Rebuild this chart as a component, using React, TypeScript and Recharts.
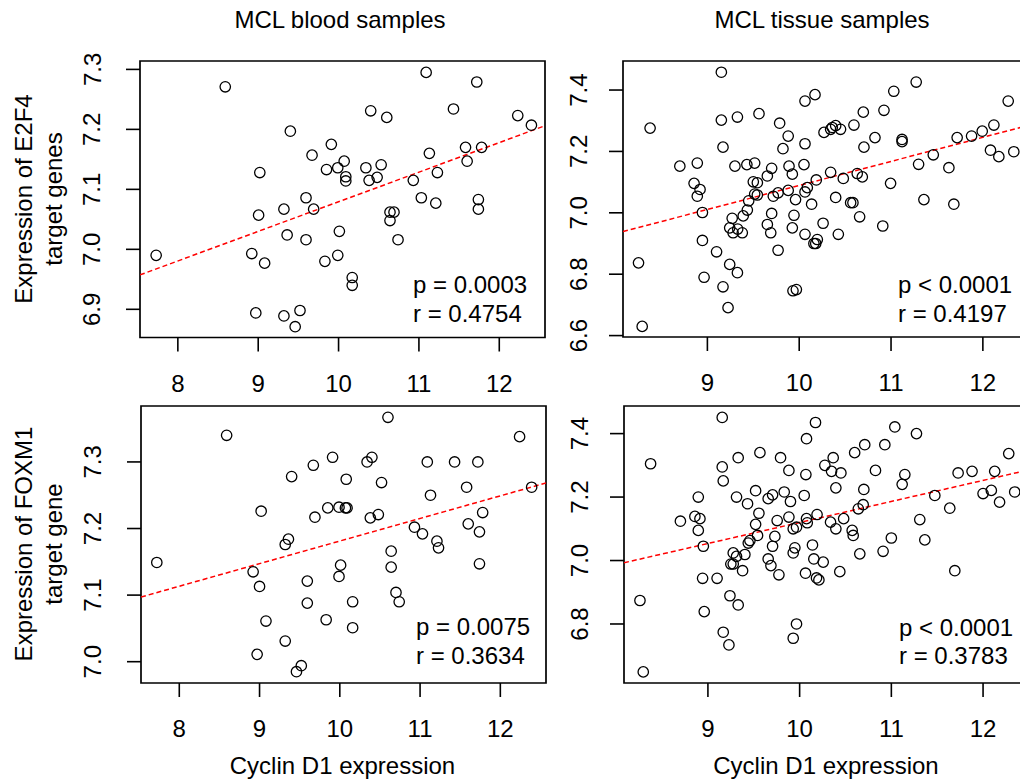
import React from "react"
import {
  ScatterChart,
  Scatter,
  XAxis,
  YAxis,
  ReferenceArea,
  ReferenceLine,
} from "recharts"

const FONT = "'Liberation Sans', Arial, Helvetica, sans-serif"

// blood samples, E2F4 targets
const bloodE2F4X = [7.73, 8.59, 9.40, 9.02, 9.005, 8.92, 9.08, 8.97, 9.32, 9.52, 9.46, 9.32, 9.36, 9.595, 9.69, 9.595, 9.67, 9.91, 9.85, 9.99, 10.07, 10.09, 10.09, 10.01, 9.99, 9.83, 10.17, 10.17, 10.40, 10.60, 10.34, 10.53, 10.48, 10.38, 10.64, 10.69, 10.64, 10.74, 11.09, 11.13, 10.93, 11.23, 11.03, 11.21, 11.43, 11.72, 11.58, 11.78, 11.60, 11.74, 11.74, 12.23, 12.40]
const bloodE2F4Y = [6.990, 7.271, 7.197, 7.128, 7.057, 6.993, 6.977, 6.894, 6.889, 6.898, 6.871, 7.067, 7.024, 7.086, 7.067, 7.016, 7.157, 7.175, 7.133, 7.136, 7.147, 7.121, 7.114, 7.030, 6.990, 6.980, 6.953, 6.940, 7.231, 7.220, 7.136, 7.141, 7.120, 7.115, 7.062, 7.062, 7.048, 7.016, 7.295, 7.160, 7.115, 7.128, 7.086, 7.077, 7.234, 7.279, 7.170, 7.170, 7.147, 7.083, 7.067, 7.223, 7.207]

// blood samples, FOXM1 target
const bloodFOXM1X = [7.72, 8.59, 9.40, 9.02, 8.92, 9.00, 9.08, 8.97, 9.32, 9.52, 9.46, 9.32, 9.36, 9.595, 9.69, 9.595, 9.67, 9.91, 9.85, 9.99, 10.08, 10.07, 10.09, 10.01, 9.99, 9.83, 10.16, 10.16, 10.34, 10.40, 10.52, 10.48, 10.38, 10.60, 10.64, 10.64, 10.70, 10.74, 11.09, 11.13, 10.93, 11.03, 11.21, 11.23, 11.43, 11.72, 11.58, 11.78, 11.60, 11.74, 11.74, 12.24, 12.39]
const bloodFOXM1Y = [7.149, 7.340, 7.278, 7.226, 7.135, 7.113, 7.061, 7.011, 7.031, 6.994, 6.985, 7.176, 7.184, 7.121, 7.217, 7.088, 7.295, 7.307, 7.231, 7.232, 7.274, 7.231, 7.231, 7.145, 7.128, 7.063, 7.090, 7.051, 7.300, 7.307, 7.269, 7.221, 7.216, 7.367, 7.166, 7.142, 7.104, 7.090, 7.300, 7.250, 7.202, 7.192, 7.181, 7.171, 7.300, 7.300, 7.262, 7.224, 7.207, 7.195, 7.147, 7.338, 7.262]

// tissue samples, E2F4 targets
const tissueE2F4X = [8.25, 8.29, 8.376, 8.70, 8.89, 8.855, 8.92, 8.89, 8.946, 8.946, 8.964, 9.10, 9.152, 9.152, 9.17, 9.17, 9.225, 9.243, 9.327, 9.327, 9.30, 9.27, 9.243, 9.28, 9.33, 9.38, 9.39, 9.435, 9.45, 9.43, 9.515, 9.50, 9.544, 9.515, 9.544, 9.562, 9.653, 9.70, 9.653, 9.69, 9.70, 9.718, 9.77, 9.77, 9.787, 9.823, 9.88, 9.889, 9.925, 9.88, 9.96, 9.943, 9.925, 9.932, 9.969, 10.063, 10.172, 10.063, 10.052, 10.063, 10.088, 10.135, 10.063, 10.186, 10.16, 10.197, 10.18, 10.26, 10.27, 10.342, 10.36, 10.397, 10.45, 10.342, 10.397, 10.426, 10.48, 10.56, 10.585, 10.596, 10.632, 10.687, 10.658, 10.698, 10.705, 10.825, 10.923, 10.995, 10.91, 11.03, 11.12, 11.12, 11.274, 11.30, 11.358, 11.46, 11.63, 11.684, 11.72, 11.877, 11.993, 12.12, 12.083, 12.174, 12.276, 12.337]
const tissueE2F4Y = [6.837, 6.630, 7.276, 7.152, 7.162, 7.096, 7.076, 7.054, 7.001, 6.910, 6.790, 6.873, 7.458, 7.302, 7.214, 6.759, 6.691, 6.832, 6.805, 7.312, 7.152, 6.982, 6.951, 6.935, 6.947, 6.935, 6.990, 7.009, 7.039, 7.157, 7.162, 7.101, 7.098, 7.061, 7.058, 7.323, 7.120, 7.145, 6.962, 6.935, 6.998, 7.054, 7.065, 6.878, 7.292, 7.209, 7.250, 7.152, 7.126, 7.073, 7.043, 6.992, 6.951, 6.746, 6.750, 7.364, 7.385, 7.225, 7.157, 7.068, 7.082, 7.028, 6.930, 7.107, 6.900, 6.913, 6.900, 6.966, 7.262, 7.272, 7.278, 7.284, 7.272, 7.132, 7.050, 6.930, 7.112, 7.033, 7.033, 7.286, 7.128, 7.117, 6.987, 7.328, 7.214, 7.245, 7.334, 7.096, 6.957, 7.396, 7.239, 7.232, 7.426, 7.158, 7.043, 7.189, 7.147, 7.028, 7.245, 7.250, 7.266, 7.286, 7.204, 7.183, 7.364, 7.199]

// tissue samples, FOXM1 target
const tissueFOXM1X = [8.259, 8.295, 8.375, 8.70, 8.858, 8.913, 8.895, 8.895, 8.95, 8.942, 8.96, 9.10, 9.156, 9.156, 9.167, 9.167, 9.229, 9.24, 9.33, 9.33, 9.312, 9.276, 9.25, 9.276, 9.312, 9.378, 9.403, 9.432, 9.44, 9.458, 9.52, 9.556, 9.52, 9.541, 9.567, 9.657, 9.705, 9.657, 9.687, 9.705, 9.73, 9.755, 9.774, 9.792, 9.832, 9.883, 9.883, 9.90, 9.93, 9.966, 9.948, 9.93, 9.93, 9.966, 10.075, 10.173, 10.068, 10.05, 10.075, 10.083, 10.14, 10.155, 10.064, 10.19, 10.184, 10.21, 10.257, 10.275, 10.366, 10.348, 10.45, 10.395, 10.337, 10.395, 10.48, 10.438, 10.573, 10.584, 10.60, 10.64, 10.693, 10.656, 10.70, 10.71, 10.827, 10.929, 10.91, 11.00, 11.038, 11.147, 11.118, 11.274, 11.31, 11.365, 11.474, 11.637, 11.692, 11.728, 11.88, 12.00, 12.09, 12.127, 12.18, 12.28, 12.345]
const tissueFOXM1Y = [6.874, 6.649, 7.305, 7.124, 7.139, 7.132, 7.200, 7.095, 7.045, 6.944, 6.839, 6.944, 7.451, 7.295, 7.251, 6.774, 6.734, 6.889, 6.860, 7.324, 7.200, 7.024, 6.989, 6.989, 7.013, 6.968, 7.019, 7.179, 7.055, 7.063, 7.220, 7.149, 7.114, 7.079, 7.340, 7.195, 7.207, 7.005, 6.984, 7.045, 7.076, 7.126, 6.955, 7.324, 7.216, 7.284, 7.137, 7.186, 7.100, 7.105, 7.040, 7.024, 6.755, 6.800, 7.384, 7.435, 7.271, 7.205, 7.132, 7.119, 7.049, 7.005, 6.960, 7.145, 6.945, 6.939, 6.995, 7.300, 7.324, 7.281, 7.276, 7.229, 7.121, 7.100, 7.132, 6.965, 7.095, 7.079, 7.340, 7.163, 7.176, 7.021, 7.224, 7.365, 7.284, 7.365, 7.029, 7.071, 7.421, 7.271, 7.240, 7.400, 7.129, 7.065, 7.205, 7.165, 6.968, 7.276, 7.281, 7.211, 7.221, 7.281, 7.184, 7.337, 7.216]

// fitted lines: [intercept, slope]
const bloodE2F4Fit = [6.5858, 0.04935]
const bloodFOXM1Fit = [6.8418, 0.03394]
const tissueE2F4Fit = [6.306, 0.07832]
const tissueFOXM1Fit = [6.4571, 0.06628]

const bloodXTicks = [8, 9, 10, 11, 12]
const tissueXTicks = [9, 10, 11, 12]
const bloodE2F4YTicks = [6.9, 7.0, 7.1, 7.2, 7.3]
const bloodFOXM1YTicks = [7.0, 7.1, 7.2, 7.3]
const tissueE2F4YTicks = [6.6, 6.8, 7.0, 7.2, 7.4]
const tissueFOXM1YTicks = [6.8, 7.0, 7.2, 7.4]

const Y_AXIS_W = 130
const M_TOP = 10
const M_RIGHT = 10
const X_AXIS_H = 70
const TICK = 14

function Circle(props: any) {
  const { cx, cy } = props
  return <circle cx={cx} cy={cy} r={5.2} fill="none" stroke="#000" strokeWidth={1.3} />
}

function XTick(props: any) {
  const { x, y, payload } = props
  return (
    <text x={x} y={y + 40} textAnchor="middle" fontSize={24} fontFamily={FONT} fill="#000">
      {payload.value}
    </text>
  )
}

function YTick(props: any) {
  const { x, y, payload, gap } = props
  const bx = x + TICK - gap
  return (
    <text
      x={bx}
      y={y}
      transform={`rotate(-90 ${bx} ${y})`}
      textAnchor="middle"
      fontSize={24}
      fontFamily={FONT}
      fill="#000"
    >
      {Number(payload.value).toFixed(1)}
    </text>
  )
}

interface PanelProps {
  xs: number[]
  ys: number[]
  fit: number[]
  left: number
  right: number
  top: number
  bottom: number
  xDomain: [number, number]
  yDomain: [number, number]
  xTicks: number[]
  yTicks: number[]
  yLabelGap: number
}

function Panel(p: PanelProps) {
  const data = p.xs.map((x, i) => ({ x, y: p.ys[i] }))
  const w = Y_AXIS_W + (p.right - p.left) + M_RIGHT
  const h = M_TOP + (p.bottom - p.top) + X_AXIS_H
  const [a, b] = p.fit
  const seg = [
    { x: p.xDomain[0], y: a + b * p.xDomain[0] },
    { x: p.xDomain[1], y: a + b * p.xDomain[1] },
  ]

  return (
    <div style={{ position: "absolute", left: p.left - Y_AXIS_W, top: p.top - M_TOP }}>
      <ScatterChart width={w} height={h} margin={{ top: M_TOP, right: M_RIGHT, bottom: 0, left: 0 }}>
        <XAxis
          type="number"
          dataKey="x"
          domain={p.xDomain}
          ticks={p.xTicks}
          allowDataOverflow
          interval={0}
          axisLine={false}
          tickSize={TICK}
          tickMargin={0}
          tickLine={{ stroke: "#000", strokeWidth: 1.6 }}
          height={X_AXIS_H}
          tick={<XTick />}
        />
        <YAxis
          type="number"
          dataKey="y"
          domain={p.yDomain}
          ticks={p.yTicks}
          allowDataOverflow
          interval={0}
          axisLine={false}
          tickSize={TICK}
          tickMargin={0}
          tickLine={{ stroke: "#000", strokeWidth: 1.6 }}
          width={Y_AXIS_W}
          tick={<YTick gap={p.yLabelGap} />}
        />
        <ReferenceArea
          x1={p.xDomain[0]}
          x2={p.xDomain[1]}
          y1={p.yDomain[0]}
          y2={p.yDomain[1]}
          fill="none"
          stroke="#000"
          strokeWidth={1.7}
          ifOverflow="visible"
        />
        <ReferenceLine segment={seg} stroke="#ff0000" strokeWidth={1.5} strokeDasharray="5 3" ifOverflow="hidden" />
        <Scatter data={data} shape={Circle} isAnimationActive={false} />
      </ScatterChart>
    </div>
  )
}

const txt = { fontSize: 24, fontFamily: FONT, fill: "#000" }

export default function App() {
  return (
    <div
      style={{
        position: "fixed",
        left: 0,
        top: 0,
        width: 1020,
        height: 783,
        overflow: "hidden",
        background: "#fff",
      }}
    >
      <Panel
        xs={bloodE2F4X}
        ys={bloodE2F4Y}
        fit={bloodE2F4Fit}
        left={139.5}
        right={544.5}
        top={61}
        bottom={337.5}
        xDomain={[7.529, 12.569]}
        yDomain={[6.853, 7.314]}
        xTicks={bloodXTicks}
        yTicks={bloodE2F4YTicks}
        yLabelGap={39.5}
      />
      <Panel
        xs={bloodFOXM1X}
        ys={bloodFOXM1Y}
        fit={bloodFOXM1Fit}
        left={140.5}
        right={545.5}
        top={405.5}
        bottom={682.5}
        xDomain={[7.523, 12.569]}
        yDomain={[6.968, 7.384]}
        xTicks={bloodXTicks}
        yTicks={bloodFOXM1YTicks}
        yLabelGap={40}
      />
      <Panel
        xs={tissueE2F4X}
        ys={tissueE2F4Y}
        fit={tissueE2F4Fit}
        left={622.5}
        right={1028}
        top={61}
        bottom={337}
        xDomain={[8.081, 12.497]}
        yDomain={[6.5954, 7.4946]}
        xTicks={tissueXTicks}
        yTicks={tissueE2F4YTicks}
        yLabelGap={36}
      />
      <Panel
        xs={tissueFOXM1X}
        ys={tissueFOXM1Y}
        fit={tissueFOXM1Fit}
        left={624}
        right={1028}
        top={405.5}
        bottom={682.5}
        xDomain={[8.085, 12.49]}
        yDomain={[6.614, 7.487]}
        xTicks={tissueXTicks}
        yTicks={tissueFOXM1YTicks}
        yLabelGap={36}
      />
      <svg
        width={1020}
        height={783}
        style={{ position: "absolute", left: 0, top: 0, pointerEvents: "none" }}
      >
        <text x={340} y={27.5} textAnchor="middle" {...txt}>MCL blood samples</text>
        <text x={822} y={27.5} textAnchor="middle" {...txt}>MCL tissue samples</text>
        <text x={342.5} y={774} textAnchor="middle" {...txt}>Cyclin D1 expression</text>
        <text x={826} y={774} textAnchor="middle" {...txt}>Cyclin D1 expression</text>

        <text x={31.5} y={199} textAnchor="middle" transform="rotate(-90 31.5 199)" {...txt}>Expression of E2F4</text>
        <text x={61.5} y={199} textAnchor="middle" transform="rotate(-90 61.5 199)" {...txt}>target genes</text>
        <text x={31.5} y={544} textAnchor="middle" transform="rotate(-90 31.5 544)" {...txt}>Expression of FOXM1</text>
        <text x={61.5} y={544} textAnchor="middle" transform="rotate(-90 61.5 544)" {...txt}>target gene</text>

        <text x={413} y={293.3} {...txt}>p = 0.0003</text>
        <text x={413} y={322} {...txt}>r = 0.4754</text>
        <text x={898} y={292.5} {...txt}>p &lt; 0.0001</text>
        <text x={898} y={321.5} {...txt}>r = 0.4197</text>
        <text x={416} y={635} {...txt}>p = 0.0075</text>
        <text x={416} y={663.5} {...txt}>r = 0.3634</text>
        <text x={899} y={636} {...txt}>p &lt; 0.0001</text>
        <text x={899} y={663.5} {...txt}>r = 0.3783</text>
      </svg>
    </div>
  )
}
